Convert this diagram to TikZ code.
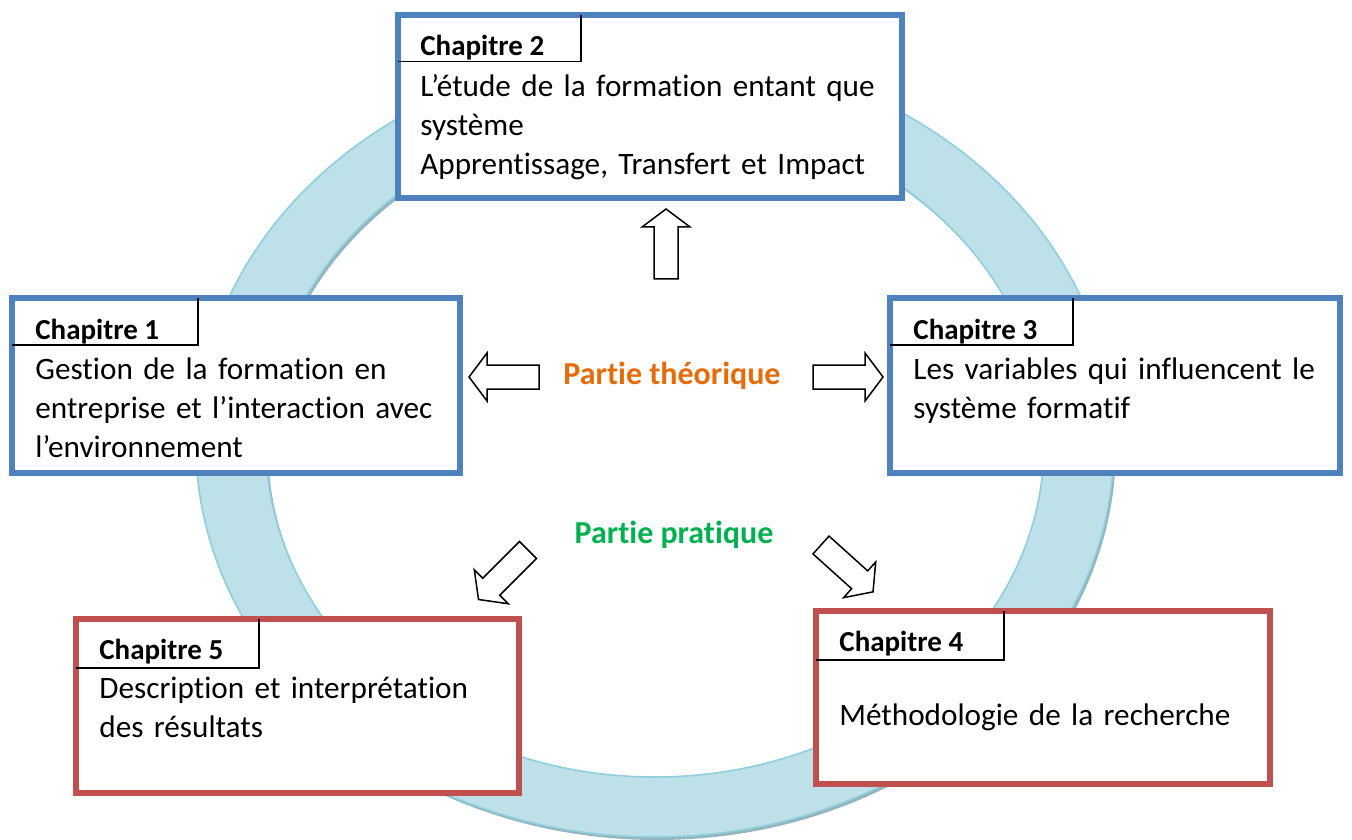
\documentclass[tikz,border=0pt]{standalone}
\usepackage{fontspec}
\setmainfont{Carlito}[Ligatures=NoCommon]
\usepackage{tikz}
\usetikzlibrary{calc,fit,positioning}
\definecolor{bleuchap}{HTML}{4F81BD}
\definecolor{rougechap}{HTML}{C0504D}
\definecolor{orangepartie}{HTML}{E46C0A}
\definecolor{vertpartie}{HTML}{00B050}
\definecolor{anneau}{HTML}{BEE1E9}
\definecolor{anneaubord}{HTML}{8FCFDC}
\definecolor{anneauombre}{HTML}{94B4BE}
\tikzset{
  chapbox/.style={draw=#1, line width=3pt, fill=white, inner sep=0pt, outer sep=0pt},
  onglet/.style={black, line width=0.8pt},
  titre/.style={anchor=base west, inner sep=0pt, font=\fontsize{14.5pt}{17pt}\selectfont\bfseries},
  corps/.style={anchor=base west, inner sep=0pt, text width=235pt, align=left, font=\fontsize{15.6pt}{19.5pt}\selectfont},
  partie/.style={anchor=base, inner sep=0pt, font=\fontsize{16pt}{19.5pt}\selectfont\bfseries},
  fleche/.style={draw=black, line width=0.75pt, fill=white, line join=miter},
  blockarrow/.pic={\draw[fleche] (0,-12) -- (52,-12) -- (52,-24) -- (70,0) -- (52,24) -- (52,12) -- (0,12) -- cycle;}
}
\begin{document}
\begin{tikzpicture}[x=0.5pt, y=-0.5pt]
\useasboundingbox[fill=white] (0,0) rectangle (1352,839);
% anneau
\fill[anneauombre, even odd rule] (657,447) ellipse [x radius=459, y radius=393] (657,447) ellipse [x radius=389, y radius=333];
\filldraw[fill=anneau, draw=anneaubord, line width=0.8pt, even odd rule] (655,444) ellipse [x radius=459, y radius=393] (655,444) ellipse [x radius=389, y radius=333];

\node[chapbox=bleuchap, fit={(398,15.5) (902,198)}] (ch2) {};
\node[chapbox=bleuchap, fit={(12,298.5) (460,473)}] (ch1) {};
\node[chapbox=bleuchap, fit={(890,298.5) (1340,473)}] (ch3) {};
\node[chapbox=rougechap, fit={(816,610.5) (1270,783.5)}] (ch4) {};
\node[chapbox=rougechap, fit={(76,619) (519,792.5)}] (ch5) {};

\draw[onglet] ($(ch2.north west)+(0,46)$) -| ($(ch2.north west)+(183,0)$);
\draw[onglet] ($(ch1.north west)+(0,46.5)$) -| ($(ch1.north west)+(186,0)$);
\draw[onglet] ($(ch3.north west)+(0,46.5)$) -| ($(ch3.north west)+(183,0)$);
\draw[onglet] ($(ch4.north west)+(0,49.5)$) -| ($(ch4.north west)+(188,0)$);
\draw[onglet] ($(ch5.north west)+(0,49)$) -| ($(ch5.north west)+(183,0)$);

\node[titre] (t2) at (420,56) {Chapitre 2};
\node[corps] (c2) at (420,97) {L’étude de la formation entant que\\système\\Apprentissage, Transfert et Impact};
\node[titre] (t1) at (35,339) {Chapitre 1};
\node[corps] (c1) at (35,379) {Gestion de la formation en\\entreprise et l’interaction avec\\l’environnement};
\node[titre] (t3) at (913,339) {Chapitre 3};
\node[corps] (c3) at (913,379) {Les variables qui influencent le\\système formatif};
\node[titre] (t4) at (839,651) {Chapitre 4};
\node[corps] (c4) at (839,725) {Méthodologie de la recherche};
\node[titre] (t5) at (99,659) {Chapitre 5};
\node[corps] (c5) at (99,698) {Description et interprétation\\des résultats};

\node[partie, text=orangepartie] (theo) at (672,384) {Partie théorique};
\node[partie, text=vertpartie] (prat) at (674,543) {Partie pratique};

\pic[rotate=90] at (666,279) {blockarrow};
\pic[rotate=180] at (539,377) {blockarrow};
\pic at (813,377) {blockarrow};
\pic[rotate=225] at (528,550) {blockarrow};
\pic[rotate=-42] at (821,545) {blockarrow};
\end{tikzpicture}
\end{document}
